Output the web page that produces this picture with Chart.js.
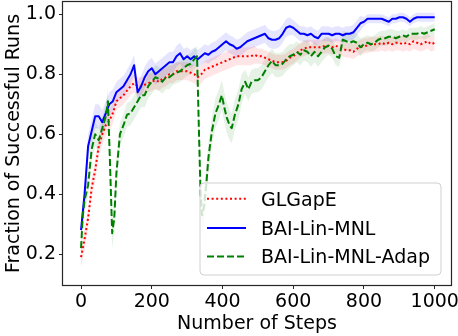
<!DOCTYPE html>
<html><head><meta charset="utf-8">
<script src="https://cdn.jsdelivr.net/npm/chart.js@4/dist/chart.umd.min.js"></script>
<style>html,body{margin:0;padding:0;background:#fff}canvas{display:block}</style>
</head><body>
<canvas id="c" width="458" height="336"></canvas>
<script>
const seriesNames = ['GLGapE', 'BAI-Lin-MNL', 'BAI-Lin-MNL-Adap'];
const xTicks = [0, 200, 400, 600, 800, 1000];
const yTicks = [0.2, 0.4, 0.6, 0.8, 1.0];

const steps = [0,10,20,30,40,50,60,70,80,90,100,110,120,130,140,150,160,170,180,190,
200,210,220,230,240,250,260,270,280,290,300,310,320,330,340,350,360,370,380,390,
400,410,420,430,440,450,460,470,480,490,500,510,520,530,540,550,560,570,580,590,
600,610,620,630,640,650,660,670,680,690,700,710,720,730,740,750,760,770,780,790,
800,810,820,830,840,850,860,870,880,890,900,910,920,930,940,950,960,970,980,990,1000];

const glgape = [0.19,0.25,0.32,0.42,0.48,0.56,0.60,0.63,0.645,0.67,
0.71,0.72,0.73,0.745,0.76,0.77,0.76,0.76,0.765,0.77,
0.775,0.78,0.775,0.785,0.79,0.80,0.80,0.81,0.81,0.81,
0.81,0.805,0.80,0.79,0.80,0.815,0.82,0.825,0.83,0.835,
0.84,0.845,0.85,0.855,0.86,0.86,0.86,0.86,0.86,0.865,
0.86,0.86,0.855,0.85,0.845,0.84,0.84,0.84,0.845,0.855,
0.86,0.87,0.88,0.885,0.89,0.89,0.89,0.89,0.89,0.895,
0.895,0.89,0.895,0.89,0.885,0.88,0.88,0.875,0.885,0.89,
0.895,0.895,0.90,0.90,0.90,0.905,0.90,0.905,0.90,0.905,
0.905,0.90,0.905,0.90,0.91,0.905,0.90,0.905,0.91,0.90,0.905];

const glgapeSpread = [0.035,0.035,0.035,0.035,0.035,0.035,0.035,0.035,0.035,0.035,
0.03,0.03,0.03,0.03,0.03,0.03,0.03,0.03,0.03,0.03,
0.03,0.03,0.03,0.03,0.03,0.03,0.03,0.03,0.03,0.03,
0.03,0.03,0.03,0.03,0.03,0.03,0.03,0.03,0.03,0.03,
0.03,0.03,0.03,0.03,0.03,0.03,0.03,0.03,0.03,0.03,
0.025,0.025,0.025,0.025,0.025,0.025,0.025,0.025,0.025,0.025,
0.025,0.025,0.025,0.025,0.025,0.025,0.025,0.025,0.025,0.025,
0.025,0.025,0.025,0.025,0.025,0.025,0.025,0.025,0.025,0.025,
0.025,0.025,0.025,0.025,0.025,0.025,0.025,0.025,0.025,0.025,
0.025,0.025,0.025,0.025,0.025,0.025,0.025,0.025,0.025,0.025,0.025];

const linMnl = [0.28,0.40,0.56,0.61,0.66,0.66,0.64,0.67,0.70,0.71,
0.74,0.75,0.76,0.78,0.80,0.83,0.74,0.76,0.79,0.81,
0.82,0.80,0.81,0.82,0.83,0.84,0.84,0.86,0.87,0.85,
0.86,0.85,0.86,0.85,0.86,0.87,0.865,0.875,0.88,0.89,
0.90,0.91,0.90,0.895,0.885,0.89,0.90,0.91,0.915,0.92,
0.925,0.93,0.935,0.92,0.915,0.915,0.92,0.935,0.955,0.96,
0.955,0.945,0.935,0.935,0.93,0.935,0.925,0.92,0.935,0.935,
0.935,0.93,0.935,0.935,0.93,0.935,0.935,0.94,0.955,0.97,
0.975,0.985,0.985,0.985,0.985,0.985,0.98,0.975,0.985,0.985,
0.99,0.99,0.985,0.975,0.985,0.99,0.99,0.99,0.99,0.99,0.99];

const linMnlSpread = [0.04,0.04,0.04,0.04,0.04,0.04,0.04,0.04,0.04,0.04,
0.035,0.035,0.035,0.035,0.035,0.035,0.035,0.035,0.035,0.035,
0.035,0.035,0.035,0.035,0.035,0.035,0.035,0.035,0.035,0.035,
0.03,0.03,0.03,0.03,0.03,0.03,0.03,0.03,0.03,0.03,
0.03,0.03,0.03,0.03,0.03,0.03,0.03,0.03,0.03,0.03,
0.03,0.03,0.03,0.03,0.03,0.03,0.03,0.03,0.03,0.03,
0.025,0.025,0.025,0.025,0.025,0.025,0.025,0.025,0.025,0.025,
0.025,0.025,0.025,0.025,0.025,0.025,0.025,0.025,0.025,0.025,
0.015,0.015,0.015,0.015,0.015,0.015,0.015,0.015,0.015,0.015,
0.015,0.015,0.015,0.015,0.015,0.015,0.015,0.015,0.015,0.015,0.015];

const adapSteps = [0,5,10,20,30,40,50,60,70,76,82,88,94,
100,110,120,130,140,150,160,170,180,190,200,210,220,230,240,250,260,270,280,290,300,310,320,
328,334,338,342,348,354,
360,370,380,390,
398,405,412,420,426,435,445,454,464,473,482,492,
500,510,520,530,540,550,560,570,580,590,
600,610,620,630,640,650,660,670,680,690,
700,710,720,730,740,750,760,770,780,790,
800,810,820,830,840,850,860,870,880,890,
900,910,920,930,940,950,960,970,980,990,1000];

const linMnlAdap = [0.22,0.33,0.38,0.43,0.55,0.60,0.58,0.62,0.66,0.71,0.50,0.27,0.32,
0.47,0.60,0.63,0.665,0.67,0.69,0.71,0.73,0.73,0.76,0.775,0.79,0.785,0.775,0.79,0.79,0.80,0.805,0.81,0.82,0.83,0.835,0.85,
0.86,0.58,0.40,0.33,0.36,0.43,
0.52,0.61,0.67,0.70,
0.73,0.69,0.655,0.63,0.62,0.665,0.70,0.75,0.775,0.75,0.775,0.78,
0.78,0.79,0.81,0.83,0.845,0.83,0.83,0.835,0.85,0.86,
0.865,0.875,0.865,0.88,0.875,0.86,0.875,0.86,0.875,0.89,
0.895,0.885,0.86,0.855,0.915,0.91,0.905,0.91,0.905,0.89,
0.90,0.905,0.90,0.905,0.915,0.92,0.92,0.925,0.925,0.92,
0.925,0.93,0.925,0.935,0.935,0.935,0.94,0.935,0.94,0.945,0.95];

const linMnlAdapSpread = [0.04,0.04,0.04,0.04,0.04,0.04,0.04,0.04,0.04,0.04,0.05,0.05,0.05,
0.05,0.04,0.04,0.04,0.04,0.04,0.04,0.04,0.04,0.04,0.04,0.04,0.04,0.04,0.04,0.04,0.035,0.035,0.035,0.035,0.035,0.035,0.035,
0.035,0.05,0.06,0.06,0.06,0.06,
0.05,0.05,0.05,0.05,
0.05,0.05,0.05,0.05,0.05,0.05,0.05,0.05,0.04,0.04,0.04,0.04,
0.04,0.04,0.04,0.04,0.04,0.04,0.04,0.04,0.04,0.04,
0.035,0.035,0.035,0.035,0.035,0.035,0.035,0.035,0.035,0.035,
0.03,0.03,0.03,0.03,0.03,0.03,0.03,0.03,0.03,0.03,
0.025,0.025,0.025,0.025,0.025,0.025,0.025,0.025,0.025,0.025,
0.02,0.02,0.02,0.02,0.02,0.02,0.02,0.02,0.02,0.02,0.02];

const FONT = '"DejaVu Sans", "Liberation Sans", sans-serif';
const FS = 19;

function pts(xs, ys) { return xs.map((x, i) => ({ x: x, y: ys[i] })); }
function bandPts(xs, ys, sp, sign) { return xs.map((x, i) => ({ x: x, y: ys[i] + sign * sp[i] })); }

const colors = ['#ff0000', '#0000ff', '#008000'];
const bandColors = ['rgba(255,0,0,0.10)', 'rgba(0,0,255,0.10)', 'rgba(0,128,0,0.10)'];
const dashes = [[2, 2.6], [], [7, 3]];

function bandSets(xs, ys, sp, k) {
  return [
    { data: bandPts(xs, ys, sp, 1), borderWidth: 0, borderColor: 'rgba(0,0,0,0)', pointRadius: 0, fill: false, order: 10 },
    { data: bandPts(xs, ys, sp, -1), borderWidth: 0, borderColor: 'rgba(0,0,0,0)', pointRadius: 0, fill: '-1', backgroundColor: bandColors[k], order: 10 }
  ];
}

const datasets = [
  ...bandSets(steps, glgape, glgapeSpread, 0),
  ...bandSets(steps, linMnl, linMnlSpread, 1),
  ...bandSets(adapSteps, linMnlAdap, linMnlAdapSpread, 2),
  { label: seriesNames[0], data: pts(steps, glgape), borderColor: colors[0], borderWidth: 2, borderDash: dashes[0], pointRadius: 0, fill: false, order: 3 },
  { label: seriesNames[1], data: pts(steps, linMnl), borderColor: colors[1], borderWidth: 2, pointRadius: 0, fill: false, order: 2 },
  { label: seriesNames[2], data: pts(adapSteps, linMnlAdap), borderColor: colors[2], borderWidth: 2, borderDash: dashes[2], pointRadius: 0, fill: false, order: 1 }
];

const framePlugin = {
  id: 'frameAndLegend',
  afterDraw(chart) {
    const ctx = chart.ctx;
    const a = chart.chartArea;
    ctx.save();
    ctx.strokeStyle = '#262626';
    ctx.lineWidth = 1.2;
    ctx.setLineDash([]);
    ctx.strokeRect(a.left - 0.5, a.top - 0.5, a.right - a.left + 1, a.bottom - a.top + 1);

    // legend box
    const bx = 200, by = 183, bw = 241, bh = 92, r = 4;
    ctx.beginPath();
    ctx.moveTo(bx + r, by);
    ctx.lineTo(bx + bw - r, by);
    ctx.arcTo(bx + bw, by, bx + bw, by + r, r);
    ctx.lineTo(bx + bw, by + bh - r);
    ctx.arcTo(bx + bw, by + bh, bx + bw - r, by + bh, r);
    ctx.lineTo(bx + r, by + bh);
    ctx.arcTo(bx, by + bh, bx, by + bh - r, r);
    ctx.lineTo(bx, by + r);
    ctx.arcTo(bx, by, bx + r, by, r);
    ctx.closePath();
    ctx.fillStyle = 'rgba(255,255,255,0.8)';
    ctx.fill();
    ctx.strokeStyle = '#d0d0d0';
    ctx.lineWidth = 1;
    ctx.stroke();

    const rows = [198.7, 228, 256.5];
    ctx.font = FS + 'px ' + FONT;
    ctx.textAlign = 'left';
    ctx.textBaseline = 'alphabetic';
    for (let i = 0; i < 3; i++) {
      ctx.beginPath();
      ctx.strokeStyle = colors[i];
      ctx.lineWidth = 2;
      ctx.setLineDash(dashes[i]);
      ctx.moveTo(207, rows[i]);
      ctx.lineTo(246, rows[i]);
      ctx.stroke();
      ctx.setLineDash([]);
      ctx.fillStyle = '#000';
      ctx.fillText(seriesNames[i], 261, rows[i] + 6.9);
    }
    ctx.restore();
  }
};

new Chart(document.getElementById('c'), {
  type: 'line',
  data: { datasets: datasets },
  options: {
    responsive: false,
    animation: false,
    devicePixelRatio: 1,
    layout: { padding: { top: 2, right: 7, left: 0, bottom: 0 } },
    plugins: { legend: { display: false }, tooltip: { enabled: false } },
    elements: { line: { tension: 0, borderJoinStyle: 'round' } },
    scales: {
      x: {
        type: 'linear', min: -51, max: 1046,
        afterBuildTicks: s => { s.ticks = xTicks.map(v => ({ value: v })); },
        afterFit: s => { s.height = 51; s.paddingLeft = 0; s.paddingRight = 0; },
        ticks: { color: '#000', font: { family: FONT, size: FS }, padding: 2, maxRotation: 0, callback: v => String(v) },
        grid: { display: true, drawOnChartArea: false, drawTicks: true, tickLength: 4, tickWidth: 1, tickColor: '#262626' },
        border: { display: false },
        title: { display: true, text: 'Number of Steps', color: '#000', font: { family: FONT, size: FS }, padding: { top: 0, bottom: 1 } }
      },
      y: {
        type: 'linear', min: 0.097, max: 1.041,
        afterBuildTicks: s => { s.ticks = yTicks.map(v => ({ value: v })); },
        afterFit: s => { s.width = 63; s.paddingTop = 0; s.paddingBottom = 0; },
        ticks: { color: '#000', font: { family: FONT, size: FS }, padding: 3, callback: v => Number(v).toFixed(1) },
        grid: { display: true, drawOnChartArea: false, drawTicks: true, tickLength: 4, tickWidth: 1, tickColor: '#262626' },
        border: { display: false },
        title: { display: true, text: 'Fraction of Successful Runs', color: '#000', font: { family: FONT, size: FS }, padding: { top: 3, bottom: 0 } }
      }
    }
  },
  plugins: [framePlugin]
});
</script>
</body></html>
